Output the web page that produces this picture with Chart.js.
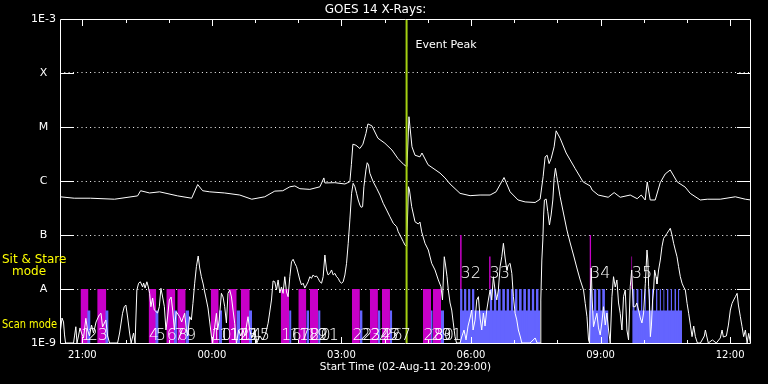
<!DOCTYPE html>
<html><head><meta charset="utf-8">
<style>html,body{margin:0;padding:0;background:#000;}canvas{display:block;}</style>
<script src="https://cdn.jsdelivr.net/npm/chart.js@4/dist/chart.umd.min.js"></script>
</head><body>
<canvas id="c" width="768" height="384" style="width:768px;height:384px"></canvas>
<script>
// ---------- data (time = minutes after 02-Aug-11 20:29:00, flux in W/m^2) ----------
const titleText = 'GOES 14 X-Rays:';
const startLabel = 'Start Time (02-Aug-11 20:29:00)';
const xRange = [0, 960];
const xMajorTicks = [31, 211, 391, 571, 751, 931];
const xMajorLabels = ['21:00', '00:00', '03:00', '06:00', '09:00', '12:00'];
const yTickValues = [1e-9, 1e-8, 1e-7, 1e-6, 1e-5, 1e-4, 1e-3];
const yTickLabels = ['1E-9', 'A', 'B', 'C', 'M', 'X', '1E-3'];
const eventPeakTime = 481.5;

// 1-8 Angstrom channel
const longCurve = [[0,5.1e-7],[19.8,4.8e-7],[42.4,4.8e-7],[75.8,4.6e-7],[107.8,5.3e-7],[112.0,6.6e-7],[124.5,6.0e-7],[138.4,6.3e-7],[163.5,5.3e-7],[182.9,4.8e-7],[191.3,8.6e-7],[198.2,6.6e-7],[208.0,6.3e-7],[228.8,6.0e-7],[249.7,5.5e-7],[266.4,4.6e-7],[284.5,5.1e-7],[298.4,6.5e-7],[309.5,6.6e-7],[319.3,7.8e-7],[326.3,8.1e-7],[333.2,7.2e-7],[347.1,7.0e-7],[361.0,7.8e-7],[366.6,1.14e-6],[368.0,9.2e-7],[381.9,9.3e-7],[395.8,8.8e-7],[402.7,9.7e-7],[404.8,2.0e-6],[406.9,4.8e-6],[411.1,4.6e-6],[416.6,4.0e-6],[420.8,4.8e-6],[425.0,7.6e-6],[427.8,1.14e-5],[433.3,1.05e-5],[441.7,6.2e-6],[451.4,5.0e-6],[461.2,3.75e-6],[469.5,2.6e-6],[477.9,2.0e-6],[482.0,1.84e-6],[484.8,1.55e-5],[489.0,4.3e-6],[493.2,3.0e-6],[500.1,2.8e-6],[502.9,3.3e-6],[511.3,2.0e-6],[528.0,1.4e-6],[534.9,1.14e-6],[541.9,8.8e-7],[555.8,5.9e-7],[569.7,5.35e-7],[583.6,5.5e-7],[597.5,5.5e-7],[605.8,6.3e-7],[616.9,1.16e-6],[625.3,6.3e-7],[636.4,4.45e-7],[646.2,4.1e-7],[660.1,4.0e-7],[667.0,4.6e-7],[671.2,1.2e-6],[674.0,2.8e-6],[676.8,3.0e-6],[679.5,2.1e-6],[682.3,2.6e-6],[686.5,4.3e-6],[689.3,8.5e-6],[694.8,6.2e-6],[703.2,3.3e-6],[715.7,1.7e-6],[726.8,9.6e-7],[736.6,8.1e-7],[739.3,6.8e-7],[747.7,5.5e-7],[761.6,5.0e-7],[769.9,6.1e-7],[778.3,5.0e-7],[792.2,5.5e-7],[801.9,4.7e-7],[807.5,5.5e-7],[813.0,4.45e-7],[815.8,9.6e-7],[820.0,4.45e-7],[826.9,4.45e-7],[833.9,9.3e-7],[840.8,1.35e-6],[847.8,1.6e-6],[857.5,9.6e-7],[868.6,7.7e-7],[875.6,5.9e-7],[889.5,4.45e-7],[899.2,4.6e-7],[917.3,4.6e-7],[938.2,5.1e-7],[952.1,4.6e-7],[960,4.45e-7]];

// 0.5-4 Angstrom channel
const shortCurve = [[0,1.0e-9],[0.7,1.74e-9],[2.8,2.9e-9],[4.9,2.45e-9],[6.3,1.41e-9],[7.7,1.0e-9],[18.8,1.0e-9],[20.2,1.35e-9],[22.0,2.0e-9],[23.6,1.0e-9],[25.7,1.35e-9],[27.8,1.9e-9],[29.9,1.53e-9],[32.7,1.24e-9],[35.9,2.87e-9],[38.3,1.74e-9],[41.0,1.35e-9],[43.8,2.15e-9],[46.6,1.53e-9],[50.1,2.45e-9],[54.5,3.3e-9],[57.0,3.55e-9],[59.1,1.98e-9],[63.7,2.67e-9],[66.1,1.35e-9],[68.9,1.0e-9],[80.0,1.0e-9],[82.8,1.53e-9],[86.9,3.55e-9],[89.3,4.7e-9],[91.5,5.05e-9],[93.9,3.03e-9],[96.7,1.53e-9],[98.8,1.0e-9],[102.2,1.53e-9],[104.3,1.0e-9],[106.8,9.58e-9],[109.2,1.28e-8],[111.6,1.36e-8],[114.8,1.09e-8],[116.2,1.29e-8],[118.2,1.04e-8],[120.7,1.36e-8],[122.7,1.09e-8],[124.5,8.32e-9],[126.3,4.7e-9],[128.7,6.81e-9],[131.0,4.08e-9],[135.6,3.59e-9],[138.0,4.7e-9],[140.2,1.03e-8],[142.6,7.11e-9],[145.0,4.7e-9],[147.2,1.74e-9],[149.5,3.03e-9],[151.9,6.25e-9],[154.4,7.11e-9],[156.5,4.08e-9],[158.9,1.74e-9],[161.4,3.8e-9],[166.2,3.07e-9],[169.0,2.45e-9],[173.2,3.55e-9],[175.6,1.74e-9],[177.4,1.35e-9],[180.1,3.07e-9],[182.5,2.67e-9],[184.7,5.43e-9],[187.1,1.28e-8],[189.5,2.59e-8],[192.0,4.08e-8],[194.1,2.45e-8],[196.4,1.69e-8],[198.9,1.24e-8],[201.0,8.8e-9],[203.4,6.25e-9],[205.6,4.45e-9],[208.0,2.45e-9],[210.3,1.35e-9],[212.1,1.0e-9],[213.5,1.41e-9],[217.3,3.55e-9],[219.1,1.74e-9],[221.2,2.67e-9],[224.2,8.32e-9],[226.5,7.11e-9],[228.8,4.7e-9],[231.2,2.35e-9],[233.4,8.32e-9],[235.8,9.58e-9],[238.2,7.11e-9],[240.4,4.08e-9],[242.7,2.32e-9],[245.1,1.0e-9],[248.3,1.74e-9],[251.1,1.35e-9],[254.3,1.74e-9],[256.7,1.35e-9],[261.2,3.07e-9],[263.6,1.74e-9],[266.4,1.24e-9],[270.6,1.74e-9],[273.4,1.0e-9],[277.5,1.35e-9],[281.7,1.14e-9],[285.9,1.53e-9],[289.1,2.32e-9],[291.4,3.75e-9],[293.8,6.25e-9],[296.0,1.41e-8],[298.4,1.36e-8],[300.8,9.58e-9],[303.0,1.47e-8],[305.4,8.43e-9],[307.7,1.09e-8],[309.9,8.32e-9],[312.3,1.69e-8],[314.7,8.8e-9],[316.9,7.2e-9],[319.3,1.69e-8],[321.6,3.2e-8],[323.9,3.55e-8],[326.2,2.99e-8],[328.6,2.59e-8],[330.8,1.98e-8],[333.2,1.47e-8],[335.5,1.19e-8],[337.8,1.28e-8],[340.1,1.04e-8],[342.5,1.19e-8],[344.7,1.36e-8],[347.1,1.69e-8],[349.4,1.58e-8],[351.7,1.82e-8],[354.0,1.69e-8],[356.4,1.74e-8],[358.6,1.58e-8],[361.0,1.36e-8],[363.4,1.28e-8],[365.6,1.69e-8],[368.0,4.26e-8],[370.3,2.25e-8],[372.5,1.82e-8],[374.9,1.95e-8],[377.3,2.25e-8],[379.5,1.82e-8],[381.9,1.95e-8],[384.2,1.69e-8],[386.5,1.58e-8],[388.8,1.36e-8],[391.2,1.28e-8],[393.4,1.36e-8],[395.8,1.82e-8],[398.1,2.99e-8],[400.4,7.02e-8],[402.7,1.9e-7],[405.1,5.92e-7],[407.3,9.06e-7],[409.7,7.84e-7],[412.0,5.92e-7],[414.3,4.45e-7],[416.6,3.59e-7],[418.3,3.26e-7],[420.4,3.34e-7],[422.2,7.84e-7],[425.0,1.6e-6],[426.8,2.18e-6],[428.7,1.98e-6],[430.5,1.39e-6],[435.1,9.7e-7],[439.9,7.33e-7],[444.5,5.51e-7],[449.1,3.86e-7],[453.8,2.9e-7],[458.4,2.18e-7],[463.0,1.65e-7],[467.7,1.43e-7],[469.9,1.15e-7],[472.3,1.0e-7],[476.9,7.52e-8],[479.2,6.53e-8],[481.6,6.07e-8],[484.1,7.84e-7],[485.5,6.8e-7],[488.6,3.34e-7],[493.2,1.76e-7],[497.7,1.6e-7],[500.1,1.74e-7],[502.5,1.14e-7],[507.1,7.02e-8],[511.7,5.27e-8],[516.4,2.99e-8],[521.0,2.25e-8],[525.6,1.47e-8],[529.3,1.1e-8],[531.4,6.25e-9],[532.8,1.82e-8],[533.9,3.96e-8],[535.6,2.78e-8],[537.7,1.69e-8],[539.5,9.58e-9],[541.9,5.51e-9],[544.2,4.08e-9],[546.4,2.35e-9],[548.8,1.31e-9],[550.9,1.0e-9],[555.8,1.0e-9],[558.5,1.35e-9],[561.3,1.74e-9],[564.1,1.14e-9],[566.9,2.06e-9],[569.7,2.9e-9],[572.1,4.08e-9],[573.9,1.74e-9],[576.7,2.67e-9],[579.0,6.25e-9],[581.3,7.2e-9],[583.6,2.9e-9],[585.9,1.74e-9],[588.2,3.59e-9],[590.5,2.06e-9],[592.9,4.08e-9],[595.1,6.25e-9],[597.5,9.58e-9],[599.8,6.25e-9],[602.1,1.69e-8],[604.4,9.58e-9],[606.8,6.25e-9],[609.0,9.58e-9],[611.4,2.59e-8],[613.8,3.96e-8],[616.0,7.02e-8],[618.4,3.75e-8],[620.7,2.25e-8],[622.9,2.78e-8],[625.3,2.99e-8],[627.7,1.95e-8],[629.9,7.2e-9],[632.3,3.55e-9],[634.6,2.67e-9],[636.8,1.74e-9],[639.2,1.35e-9],[641.6,1.0e-9],[653.1,1.0e-9],[660.1,1.24e-9],[662.9,1.0e-9],[667.0,1.0e-9],[668.0,6.25e-9],[669.4,3.44e-8],[670.8,8.08e-8],[671.9,2.35e-7],[673.0,4.45e-7],[675.4,4.64e-7],[677.7,2.7e-7],[680.0,1.53e-7],[682.3,2.35e-7],[684.7,4.45e-7],[686.5,1.12e-6],[688.3,1.72e-6],[690.2,1.2e-6],[694.8,5.12e-7],[699.4,2.55e-7],[704.2,1.24e-7],[708.8,7.11e-8],[713.4,4.26e-8],[718.1,2.45e-8],[722.7,1.47e-8],[727.3,9.58e-9],[729.7,5.43e-9],[732.1,3.07e-9],[734.3,1.14e-9],[735.7,1.0e-9],[736.6,6.25e-9],[738.0,2.45e-8],[739.4,6.25e-9],[741.2,2.0e-9],[743.5,2.67e-9],[745.9,3.55e-9],[748.1,1.9e-9],[750.5,1.41e-9],[752.9,2.45e-9],[755.1,4.7e-9],[757.5,2.15e-9],[759.8,3.59e-9],[762.1,1.74e-9],[764.4,1.0e-9],[766.8,7.2e-9],[769.0,1.69e-8],[771.4,1.09e-8],[773.7,1.47e-8],[776.0,5.51e-9],[778.3,3.55e-9],[780.7,1.74e-9],[782.9,7.2e-9],[785.3,9.58e-9],[787.6,1.74e-9],[789.9,1.14e-9],[792.2,1.1e-8],[794.3,2.25e-8],[796.4,4.7e-9],[799.2,4.7e-9],[801.3,5.51e-9],[803.8,4.08e-9],[806.2,2.9e-9],[808.5,2.35e-9],[810.8,3.59e-9],[813.2,1.28e-8],[815.5,5.27e-8],[816.7,3.44e-8],[817.8,1.1e-8],[818.8,6.25e-9],[820.2,1.31e-9],[821.6,2.06e-9],[823.3,6.25e-9],[824.7,9.58e-9],[826.1,2.25e-8],[828.1,1.67e-8],[829.4,1.24e-8],[831.6,2.25e-8],[834.0,3.44e-8],[836.3,6.07e-8],[838.6,8.68e-8],[840.9,9.58e-8],[843.3,1.07e-7],[845.5,1.19e-7],[847.9,1.33e-7],[850.2,1.0e-7],[852.5,7.02e-8],[854.8,5.27e-8],[857.2,3.96e-8],[859.4,2.59e-8],[861.8,1.69e-8],[864.2,1.28e-8],[866.4,1.09e-8],[868.8,9.58e-9],[871.2,5.43e-9],[873.4,3.55e-9],[875.8,2.15e-9],[878.1,1.31e-9],[880.4,2.06e-9],[882.7,1.31e-9],[885.5,1.0e-9],[889.7,1.0e-9],[895.2,1.35e-9],[896.6,1.74e-9],[898.7,1.29e-9],[900.7,1.0e-9],[906.3,1.14e-9],[911.8,1.0e-9],[917.4,1.24e-9],[919.8,1.74e-9],[921.6,1.29e-9],[925.8,1.35e-9],[928.6,2.15e-9],[931.3,4.08e-9],[933.7,5.43e-9],[935.9,6.25e-9],[938.3,7.2e-9],[940.7,8.32e-9],[942.5,5.05e-9],[945.2,3.07e-9],[947.6,2.0e-9],[949.8,1.31e-9],[952.2,1.74e-9],[954.6,1.0e-9],[956.8,1.51e-9],[959.3,1.0e-9]];

// observation intervals [start, end] in minutes
const sitStareObs = [[28.5,39.6],[51.7,64.3],[123.1,133.8],[147.7,160.3],[163.0,174.6],[209.4,220.5],[234.4,245.5],[251.1,263.6],[306.7,318.3],[331.1,342.2],[347.1,358.6],[405.5,416.6],[430.5,441.7],[447.2,458.4],[504.3,515.4],[518.2,529.3]];
const scanObs = [[37.8,42.4],[62.9,67.5],[132.4,137.0],[158.3,163.0],[174.2,179.2],[220.5,225.1],[245.1,250.1],[262.6,266.8],[318.3,321.6],[342.2,346.1],[358.6,362.0],[416.6,420.4],[441.7,445.2],[458.4,461.6],[515.0,517.8],[529.3,533.5]];
const scanBlocks = [[555.8,667.0],[735.2,762.0],[795.2,864.2]];
const scanRasters = [[555.8,559.3],[561.3,564.8],[566.9,570.3],[572.4,575.9],
  [596.8,600.7],[602.6,606.5],[608.5,612.4],[614.3,618.2],[620.2,624.1],[626.0,629.9],[631.9,635.8],[637.7,641.6],[643.5,647.4],[649.4,653.3],[655.2,659.1],[661.1,665.0],
  [735.6,739.5],[741.5,745.4],[747.3,751.2],[753.2,757.1],
  [795.2,798.4],[800.7,803.9],[807.1,809.3],[812.1,814.0],[817.7,820.1],[822.4,824.6],[828.0,830.2],[833.0,834.9],[838.1,839.9],[843.3,845.5],[848.3,850.3],[853.5,855.9],[858.6,860.4]];
const obsMarkers = [[555.8,558.2,1e-7],[596.1,598.4,4e-8],[735.6,738.0,1e-7],[793.6,795.0,4e-8]];
const obsNumbers = ['1','2','3','4','5','6','7','8','9','10','11','12','13','14','15','16','17','18','19','20','21','22','23','24','25','26','27','28','29','30','31','32','33','34','35'];
const obsStarts = [28.5,37.8,51.7,123.1,132.4,147.7,158.3,163.0,174.2,209.4,220.5,234.4,245.1,251.1,262.6,306.7,318.3,331.1,342.2,347.1,358.6,405.5,416.6,430.5,441.7,447.2,458.4,504.3,515.0,518.2,529.3,555.8,596.1,735.6,793.6];
const obsRaisedFrom = 32;

// ---------- helpers ----------
const FONT = '"DejaVu Sans", sans-serif';
const MAGENTA = '#c800c8', BLUE = '#6464ff', PEAK = '#a4d012';
const pts = arr => arr.map(([x, y]) => ({x, y}));
function rects(intervals, level) {
  const out = [];
  intervals.forEach(([s, e, lv]) => {
    const v = lv !== undefined ? lv : level;
    out.push({x: s, y: v}, {x: e, y: v}, {x: e, y: null});
  });
  return out;
}
const area = (data, color, fill) => ({data, backgroundColor: color, borderColor: 'rgba(0,0,0,0)', borderWidth: 0, pointRadius: 0, fill, spanGaps: false});

const decor = {
  id: 'decor',
  afterDatasetsDraw(chart) {
    const {ctx, chartArea: a, scales: {x, y}} = chart;
    const L = Math.round(a.left), R = Math.round(a.right) - 1, T = Math.round(a.top), B = Math.round(a.bottom);
    ctx.save();
    ctx.strokeStyle = '#fff'; ctx.lineWidth = 1;
    ctx.beginPath();
    ctx.rect(L + 0.5, T + 0.5, R - L, B - T);
    yTickValues.slice(1, -1).forEach(v => {
      const py = Math.round(y.getPixelForValue(v)) + 0.5;
      ctx.moveTo(L, py); ctx.lineTo(L + 14, py);
      ctx.moveTo(R - 13, py); ctx.lineTo(R + 1, py);
    });
    for (let m = xMajorTicks[0] % 60; m <= xRange[1]; m += 60) {
      const px = Math.round(x.getPixelForValue(m)) + 0.5;
      const len = xMajorTicks.includes(m) ? 7 : 4;
      ctx.moveTo(px, T); ctx.lineTo(px, T + len);
      ctx.moveTo(px, B + 1); ctx.lineTo(px, B + 1 - len);
    }
    ctx.stroke();
    // observation numbers
    ctx.fillStyle = '#fff';
    ctx.font = '200 16px ' + FONT;
    ctx.textAlign = 'left'; ctx.textBaseline = 'alphabetic';
    obsNumbers.forEach((n, i) => {
      const px = x.getPixelForValue(obsStarts[i]) + 0.5;
      const py = (+n >= obsRaisedFrom) ? y.getPixelForValue(1e-8) - 11 : B - 3;
      ctx.fillText(n, px, py);
    });
    // event peak label
    ctx.font = '11px ' + FONT;
    ctx.fillText('Event Peak', x.getPixelForValue(eventPeakTime) + 9, T + 29);
    // mode labels
    ctx.fillStyle = '#ffff00';
    ctx.font = '12px ' + FONT;
    ctx.fillText('Sit & Stare', 2, 263, 65);
    ctx.fillText('mode', 12, 275);
    ctx.fillText('Scan mode', 2, 328, 55);
    ctx.restore();
  }
};

new Chart(document.getElementById('c'), {
  type: 'line',
  data: {
    datasets: [
      {data: pts([[eventPeakTime, 1e-9], [eventPeakTime, 1e-3]]), borderColor: PEAK, borderWidth: 2, pointRadius: 0, fill: false},
      {data: pts(longCurve), borderColor: '#fff', borderWidth: 1, pointRadius: 0, fill: false, tension: 0},
      {data: pts(shortCurve), borderColor: '#fff', borderWidth: 1, pointRadius: 0, fill: false, tension: 0},
      area(rects(obsMarkers), MAGENTA, {value: 1e-8}),
      area(rects(scanRasters, 1e-8), BLUE, 'start'),
      area(rects(scanBlocks, 4e-9), BLUE, 'start'),
      area(rects(scanObs, 4e-9), BLUE, 'start'),
      area(rects(sitStareObs, 1e-8), MAGENTA, 'start')
    ]
  },
  options: {
    responsive: false, animation: false, devicePixelRatio: 1,
    layout: {padding: {top: 0, right: 17, left: 0, bottom: 0}},
    plugins: {
      legend: {display: false}, tooltip: {enabled: false},
      title: {display: true, text: titleText, color: '#fff', font: {family: FONT, size: 12, weight: 'normal'}, padding: {top: 2.3, bottom: 2.3}}
    },
    scales: {
      x: {
        type: 'linear', min: xRange[0], max: xRange[1],
        afterBuildTicks: s => { const t = []; for (let m = xMajorTicks[0] % 60; m <= xRange[1]; m += 60) t.push({value: m}); s.ticks = t; },
        afterFit: s => { s.height = 41; },
        ticks: {autoSkip: false, maxRotation: 0, color: '#fff', padding: 6, font: {family: FONT, size: 10},
          callback: v => { const i = xMajorTicks.indexOf(v); return i >= 0 ? xMajorLabels[i] : ''; }},
        grid: {display: false, drawTicks: false},
        border: {display: false},
        title: {display: true, text: startLabel, color: '#fff', font: {family: FONT, size: 10.5}, padding: {top: 0, bottom: 10}}
      },
      y: {
        type: 'logarithmic', min: 1e-9, max: 1e-3,
        afterBuildTicks: s => { s.ticks = yTickValues.map(v => ({value: v})); },
        afterFit: s => { s.width = 60; },
        ticks: {color: '#fff', padding: 4, crossAlign: 'center', font: {family: FONT, size: 11},
          callback: (v, i) => yTickLabels[i]},
        grid: {drawTicks: false, lineWidth: 1,
          color: c => (c.index === 0 || c.index === yTickValues.length - 1) ? 'rgba(0,0,0,0)' : '#fff'},
        border: {display: false, dash: [1, 3.3]}
      }
    }
  },
  plugins: [decor]
});
</script>
</body></html>
